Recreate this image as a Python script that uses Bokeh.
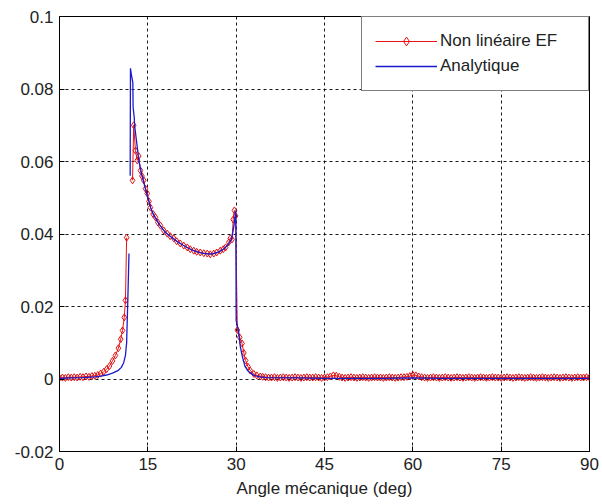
import numpy as np
from bokeh.plotting import figure
from bokeh.models import FixedTicker, Legend, LegendItem
from bokeh.embed import file_html
from bokeh.resources import INLINE

NAN = float("nan")

# ---- data: (angle in deg, value) ----
ef_points = [
    (0.0, 0.0003), (0.5, 0.0004), (1.0, 0.0003), (1.5, 0.0005), (2.0, 0.0004),
    (2.5, 0.0005), (3.0, 0.0004), (3.5, 0.0006), (4.0, 0.0005), (4.5, 0.0007),
    (5.0, 0.0006), (5.5, 0.0008), (6.0, 0.0009), (6.5, 0.0011), (7.0, 0.0015),
    (7.5, 0.0020), (8.0, 0.0027), (8.5, 0.0036), (9.0, 0.0050), (9.5, 0.0065),
    (10.0, 0.0085), (10.4, 0.0110), (10.7, 0.0134), (11.0, 0.0170),
    (11.2, 0.0217), (11.4, 0.0390), (NAN, NAN),
    (12.4, 0.0548), (12.6, 0.0700), (12.9, 0.0630), (13.2, 0.0603),
    (13.45, 0.0615), (13.75, 0.0575), (14.0, 0.0560), (14.3, 0.0548),
    (14.6, 0.0525), (14.9, 0.0512), (15.2, 0.0490), (15.45, 0.0473),
    (15.9, 0.0455), (16.3, 0.0446), (16.7, 0.0432), (17.15, 0.0423),
    (17.7, 0.0410), (18.3, 0.0401), (18.8, 0.0394), (19.4, 0.0388),
    (19.9, 0.0380), (20.5, 0.0374), (21.1, 0.0368), (21.7, 0.0363),
    (22.2, 0.0358), (22.8, 0.0354), (23.3, 0.0351), (23.9, 0.0349),
    (24.5, 0.0347), (25.1, 0.0346), (25.6, 0.0344), (26.2, 0.0346),
    (26.7, 0.0349), (27.3, 0.0354), (27.8, 0.0358), (28.2, 0.0363),
    (28.75, 0.0377), (29.0, 0.0388), (29.3, 0.0385), (29.5, 0.0440),
    (29.7, 0.0465), (29.9, 0.0450), (30.2, 0.0135), (30.6, 0.0115),
    (31.0, 0.0098), (31.3, 0.0072), (31.6, 0.0051), (32.0, 0.0034),
    (32.4, 0.0023), (33.0, 0.0014), (33.5, 0.0010), (34.1, 0.0007),
    (34.5, 0.0006),
    (35.0, 0.0005), (35.5, 0.0004), (36.0, 0.0004), (36.5, 0.0005),
    (37.0, 0.0003), (37.5, 0.0004), (38.0, 0.0005), (38.5, 0.0004),
    (39.0, 0.0003), (39.5, 0.0004), (40.0, 0.0005), (40.5, 0.0004),
    (41.0, 0.0003), (41.5, 0.0004), (42.0, 0.0005), (42.5, 0.0004),
    (43.0, 0.0004), (43.5, 0.0005), (44.0, 0.0004), (44.5, 0.0003),
    (45.0, 0.0004), (45.5, 0.0005), (46.0, 0.0007), (46.5, 0.0010),
    (47.0, 0.0009), (47.5, 0.0006), (48.0, 0.0004), (48.5, 0.0003),
    (49.0, 0.0004), (49.5, 0.0005), (50.0, 0.0004), (50.5, 0.0003),
    (51.0, 0.0004), (51.5, 0.0005), (52.0, 0.0004), (52.5, 0.0003),
    (53.0, 0.0004), (53.5, 0.0005), (54.0, 0.0004), (54.5, 0.0004),
    (55.0, 0.0003), (55.5, 0.0004), (56.0, 0.0005), (56.5, 0.0004),
    (57.0, 0.0003), (57.5, 0.0004), (58.0, 0.0005), (58.5, 0.0005),
    (59.0, 0.0006), (59.5, 0.0008), (60.0, 0.0011), (60.5, 0.0010),
    (61.0, 0.0007), (61.5, 0.0005), (62.0, 0.0004), (62.5, 0.0003),
    (63.0, 0.0004), (63.5, 0.0005), (64.0, 0.0004), (64.5, 0.0003),
    (65.0, 0.0004), (65.5, 0.0005), (66.0, 0.0004), (66.5, 0.0003),
    (67.0, 0.0004), (67.5, 0.0005), (68.0, 0.0004), (68.5, 0.0003),
    (69.0, 0.0004), (69.5, 0.0005), (70.0, 0.0004), (70.5, 0.0003),
    (71.0, 0.0004), (71.5, 0.0005), (72.0, 0.0004), (72.5, 0.0003),
    (73.0, 0.0004), (73.5, 0.0005), (74.0, 0.0004), (74.5, 0.0004),
    (75.0, 0.0003), (75.5, 0.0004), (76.0, 0.0005), (76.5, 0.0004),
    (77.0, 0.0003), (77.5, 0.0004), (78.0, 0.0005), (78.5, 0.0004),
    (79.0, 0.0003), (79.5, 0.0004), (80.0, 0.0005), (80.5, 0.0004),
    (81.0, 0.0003), (81.5, 0.0004), (82.0, 0.0005), (82.5, 0.0004),
    (83.0, 0.0003), (83.5, 0.0004), (84.0, 0.0005), (84.5, 0.0004),
    (85.0, 0.0003), (85.5, 0.0004), (86.0, 0.0005), (86.5, 0.0004),
    (87.0, 0.0003), (87.5, 0.0004), (88.0, 0.0005), (88.5, 0.0004),
    (89.0, 0.0004), (89.5, 0.0005), (90.0, 0.0004),
]

an_points = [
    (0.0, 0.0002), (2.0, 0.0003), (4.0, 0.0004), (6.0, 0.0006), (7.0, 0.0008),
    (8.0, 0.0011), (9.0, 0.0016), (10.0, 0.0024), (10.5, 0.0032),
    (10.9, 0.0045), (11.2, 0.0065), (11.4, 0.0100), (11.6, 0.0217),
    (11.8, 0.0346), (NAN, NAN),
    (12.0, 0.0561), (12.05, 0.0857), (12.2, 0.0840), (12.45, 0.0818),
    (12.5, 0.0750), (12.7, 0.0720), (12.75, 0.0700), (13.2, 0.0640),
    (13.5, 0.0600), (14.0, 0.0562), (14.5, 0.0530), (15.0, 0.0500),
    (15.5, 0.0472), (16.0, 0.0452), (17.0, 0.0425), (18.0, 0.0404),
    (19.0, 0.0391), (20.0, 0.0379), (21.0, 0.0369), (22.0, 0.0360),
    (23.0, 0.0353), (24.0, 0.0348), (25.0, 0.0345), (26.0, 0.0345),
    (27.0, 0.0350), (28.0, 0.0360), (28.7, 0.0372), (29.2, 0.0385),
    (29.6, 0.0420), (29.95, 0.0465), (30.0, 0.0161), (30.4, 0.0133),
    (30.7, 0.0090), (31.0, 0.0065), (31.5, 0.0035), (32.0, 0.0022),
    (33.0, 0.0010), (34.0, 0.0006), (35.0, 0.0004), (40.0, 0.0003),
    (45.0, 0.0002), (50.0, 0.0002), (55.0, 0.0002), (60.0, 0.0003),
    (65.0, 0.0002), (70.0, 0.0002), (75.0, 0.0002), (80.0, 0.0002),
    (85.0, 0.0002), (90.0, 0.0002),
]

x_ticks = [0, 15, 30, 45, 60, 75, 90]
y_ticks = [-0.02, 0, 0.02, 0.04, 0.06, 0.08, 0.1]
y_tick_labels = ["-0.02", "0", "0.02", "0.04", "0.06", "0.08", "0.1"]
label_ef = "Non linéaire EF"
label_an = "Analytique"
x_title = "Angle mécanique (deg)"

ef_angle = [a for a, v in ef_points]
ef_value = [v for a, v in ef_points]
an_angle = [a for a, v in an_points]
an_value = [v for a, v in an_points]

FONT = "Liberation Sans"
TXT = "#222222"

p = figure(width=602, height=504, output_backend="svg", toolbar_location=None,
           x_range=(0, 90), y_range=(-0.02, 0.1),
           min_border_left=59, min_border_right=13, min_border_top=16,
           min_border_bottom=53)
p.background_fill_color = "white"
p.border_fill_color = "white"
p.outline_line_color = "black"
p.outline_line_width = 1

p.xaxis.ticker = FixedTicker(ticks=x_ticks)
p.yaxis.ticker = FixedTicker(ticks=y_ticks)
p.yaxis.major_label_overrides = {t: l for t, l in zip(y_ticks, y_tick_labels)}
for ax in (p.xaxis[0], p.yaxis[0]):
    ax.major_tick_in = 5
    ax.major_tick_out = 0
    ax.minor_tick_line_color = None
    ax.axis_line_color = "black"
    ax.major_tick_line_color = "black"
    ax.major_label_text_font = FONT
    ax.major_label_text_font_size = "17px"
    ax.major_label_text_color = TXT
    ax.major_label_standoff = 6
p.xaxis.axis_label = x_title
p.xaxis.axis_label_text_font = FONT
p.xaxis.axis_label_text_font_size = "17px"
p.xaxis.axis_label_text_font_style = "normal"
p.xaxis.axis_label_text_color = TXT
p.xaxis.axis_label_standoff = 6

for g in (p.xgrid[0], p.ygrid[0]):
    g.grid_line_color = "black"
    g.grid_line_dash = "3 3"
    g.grid_line_width = 1
    g.grid_line_alpha = 0.9

r_line = p.line(ef_angle, ef_value, line_color="#ee1111", line_width=1)
r_mark = p.scatter(ef_angle, ef_value, marker="diamond", size=7,
                   line_color="#dd1111", fill_color=None, line_width=1)
b_line = p.line(an_angle, an_value, line_color="#1a1acc", line_width=1.3)

legend = Legend(items=[LegendItem(label=label_ef, renderers=[r_line, r_mark]),
                       LegendItem(label=label_an, renderers=[b_line])],
                location="top_right", margin=0, padding=13, spacing=3,
                glyph_width=62, glyph_height=22, label_height=22,
                label_width=135, label_standoff=3,
                label_text_font=FONT, label_text_font_size="17px",
                label_text_color=TXT, border_line_color="black",
                border_line_width=1, background_fill_color="white",
                background_fill_alpha=1)
p.add_layout(legend)

open("out.html", "w").write(file_html(p, INLINE))
